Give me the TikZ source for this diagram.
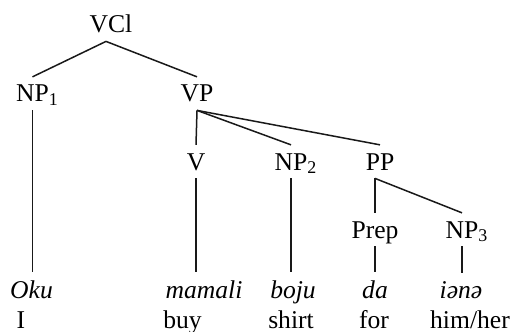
\documentclass[tikz,border=0pt]{standalone}
\usepackage{fontspec}
\setmainfont{Liberation Serif}
\usepackage{tikz}

\begin{document}
\begin{tikzpicture}[
    x=0.5pt, y=-0.5pt,
    every node/.style={font=\fontsize{12.8}{15}\selectfont},
    catnode/.style={anchor=base, inner xsep=0pt, inner ysep=4pt, text depth=0pt},
    wordnode/.style={anchor=base, inner xsep=0pt, inner ysep=4pt, text depth=0pt,
                     font=\fontsize{12.8}{15}\selectfont\itshape},
    glossnode/.style={anchor=base, inner sep=0pt},
    branch/.style={line width=0.75pt, black!90}
]
    \useasboundingbox (0,0) rectangle (512,331);

    % Category labels
    \node[catnode] (vcl) at (111,33) {VCl};
    \node[catnode] (np1) at (32.5,102) {NP\rlap{\textsubscript{1}}};
    \node[catnode] (vp) at (197,102) {VP};
    \node[catnode] (v) at (196,170) {V};
    \node[catnode] (np2) at (291,170) {NP\rlap{\textsubscript{2}}};
    \node[catnode] (pp) at (380,170) {PP};
    \node[catnode] (prep) at (375,238) {Prep};
    \node[catnode] (np3) at (462,238) {NP\rlap{\textsubscript{3}}};

    % Words
    \node[wordnode] (oku) at (31.5,298) {Oku};
    \node[wordnode] (mamali) at (204,298) {mamali};
    \node[wordnode] (boju) at (293,298) {boju};
    \node[wordnode] (da) at (375,298) {da};
    \node[wordnode] (iene) at (461,298) {iənə};

    % Glosses
    \node[glossnode] (gi) at (21,328) {I};
    \node[glossnode] (gbuy) at (182.5,328) {buy};
    \node[glossnode] (gshirt) at (291,328) {shirt};
    \node[glossnode] (gfor) at (374,328) {for};
    \node[glossnode] (ghim) at (470,328) {him/her};

    % Branches
    \draw[branch] ([xshift=-2.5pt]vcl.south) -- (np1.north);
    \draw[branch] ([xshift=-2.5pt]vcl.south) -- (vp.north);
    \draw[branch] (vp.south) -- (v.north);
    \draw[branch] (vp.south) -- (np2.north);
    \draw[branch] (vp.south) -- (pp.north);
    \draw[branch] ([xshift=-2.5pt]pp.south) -- (prep.north);
    \draw[branch] ([xshift=-2.5pt]pp.south) -- (np3.north);

    % Lines down to the words
    \draw[branch] (np1.south) -- (np1.south |- oku.north);
    \draw[branch] (v.south) -- (v.south |- mamali.north);
    \draw[branch] (np2.south) -- (np2.south |- boju.north);
    \draw[branch] (prep.south) -- (prep.south |- da.north);
    \draw[branch] (np3.south) -- (np3.south |- iene.north);
\end{tikzpicture}
\end{document}
